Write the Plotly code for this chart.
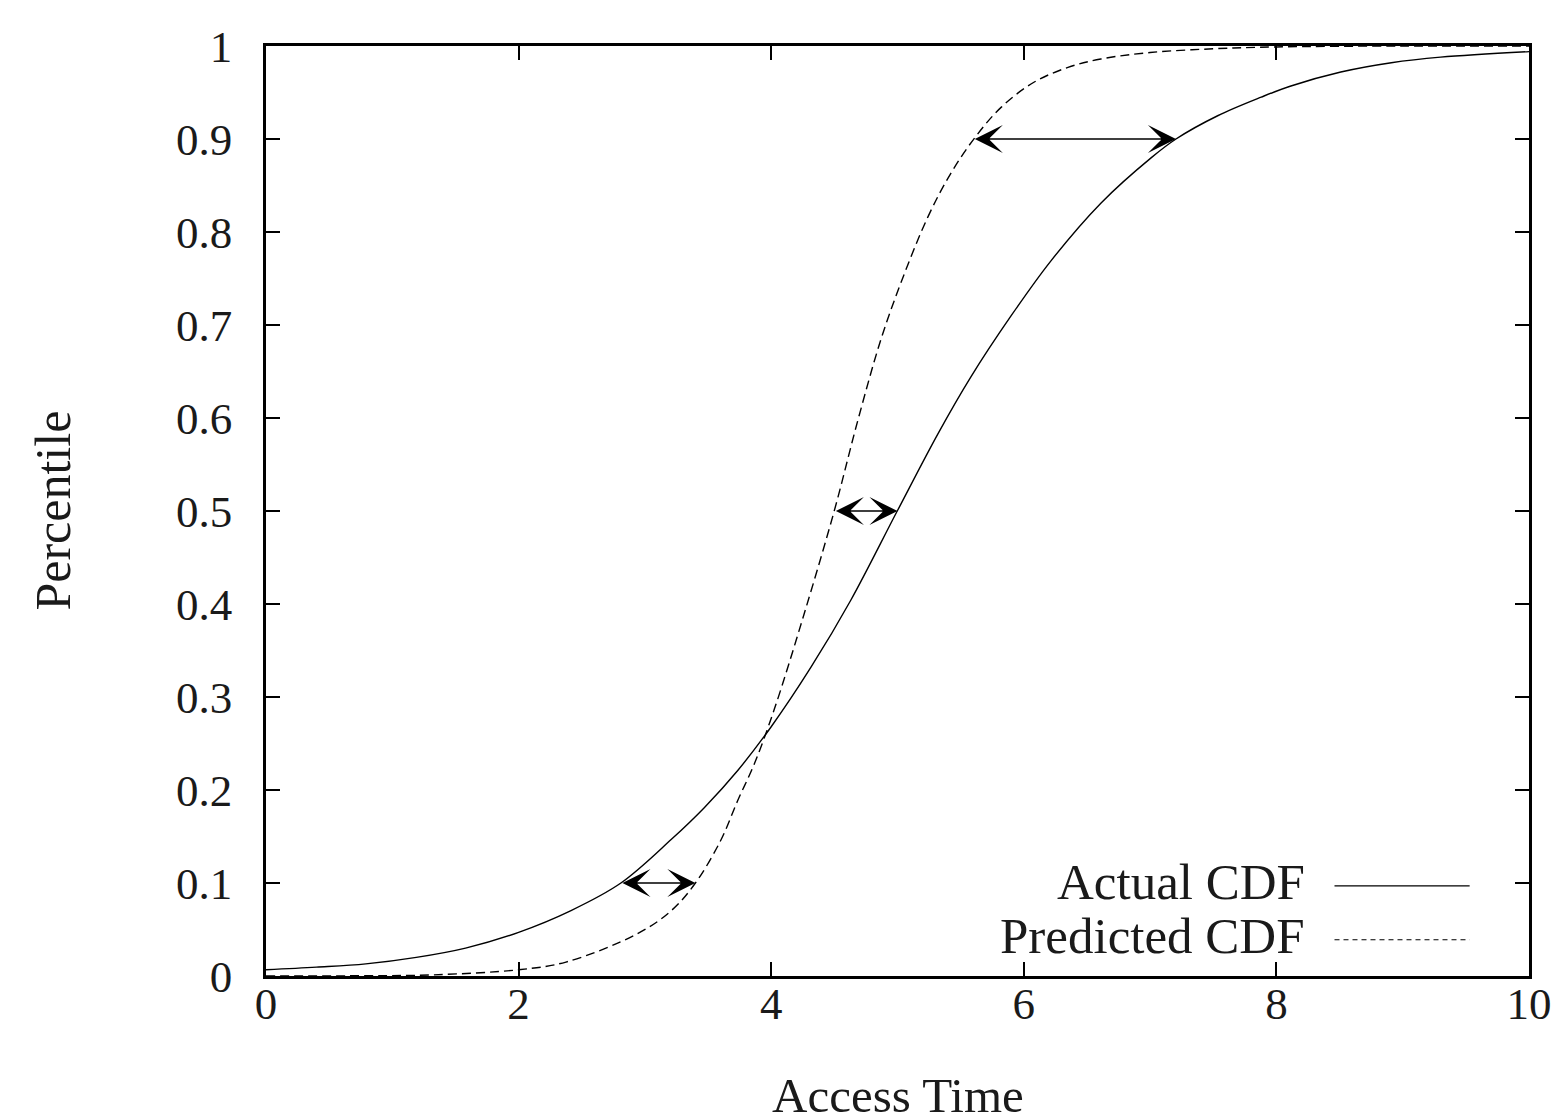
import plotly.graph_objects as go

# ---- data ----
actual_x = [0, 0.4, 0.79, 1.19, 1.58, 2.0, 2.415, 2.81, 3.21, 3.47, 3.735, 4.0, 4.315,
            4.63, 5.0, 5.32, 5.58, 5.90, 6.215, 6.61, 7.01, 7.205, 7.535, 7.88, 8.115,
            8.51, 8.91, 9.30, 10.0]
actual_y = [0.0067, 0.0095, 0.013, 0.020, 0.030, 0.047, 0.0704, 0.100, 0.147, 0.181,
            0.221, 0.268, 0.332, 0.404, 0.5005, 0.583, 0.644, 0.710, 0.769, 0.831,
            0.880, 0.900, 0.925, 0.945, 0.957, 0.972, 0.982, 0.988, 0.994]

pred_x = [0, 0.8, 1.32, 2.0, 2.375, 2.94, 3.21, 3.40, 3.60, 3.735, 3.866, 4.025,
          4.26, 4.50, 4.685, 4.87, 5.04, 5.24, 5.42, 5.61, 5.82, 6.08, 6.35, 6.61, 7.0,
          7.5, 8.0, 9.0, 10.0]
pred_y = [0.0, 0.0003, 0.0012, 0.0067, 0.015, 0.0454, 0.0704, 0.100, 0.1457,
          0.1887, 0.228, 0.287, 0.389, 0.5005, 0.597, 0.685, 0.750, 0.816, 0.8626, 0.901,
          0.934, 0.961, 0.977, 0.986, 0.993, 0.997, 0.999, 1.0, 1.0]

# gap arrows: (percentile, left x, right x)
arrow_levels = [0.1, 0.5, 0.9]
arrow_left = [2.81, 4.50, 5.60]
arrow_right = [3.40, 5.00, 7.205]

x_ticks = [0, 2, 4, 6, 8, 10]
y_ticks = [0, 0.1, 0.2, 0.3, 0.4, 0.5, 0.6, 0.7, 0.8, 0.9, 1.0]
y_ticktext = ["0", "0.1", "0.2", "0.3", "0.4", "0.5", "0.6", "0.7", "0.8", "0.9", "1"]

series_names = ["Actual CDF", "Predicted CDF"]

FONT = "Liberation Serif"
INK = "#1a1a1a"

fig = go.Figure()
fig.add_trace(go.Scatter(x=actual_x, y=actual_y, mode="lines", name=series_names[0],
                         line=dict(color="black", width=1.4, shape="spline", smoothing=1.0)))
fig.add_trace(go.Scatter(x=pred_x, y=pred_y, mode="lines", name=series_names[1],
                         line=dict(color="black", width=1.4, dash="9px,5px",
                                   shape="spline", smoothing=1.0)))

for lv, xl, xr in zip(arrow_levels, arrow_left, arrow_right):
    fig.add_annotation(x=xr, y=lv, ax=xl, ay=lv, xref="x", yref="y", axref="x", ayref="y",
                       text="", showarrow=True, arrowside="end+start",
                       arrowhead=3, startarrowhead=3,
                       arrowwidth=1.3, arrowsize=3.6, startarrowsize=3.6,
                       arrowcolor="black", standoff=0, startstandoff=0)

# custom legend (text right-aligned, sample to the right)
legend_y = [0.101, 0.043]
dashes = ["solid", "5px,4px"]
for name, ly, dsh in zip(series_names, legend_y, dashes):
    fig.add_annotation(x=0.824, y=ly, xref="paper", yref="paper", text=name,
                       showarrow=False, xanchor="right", yanchor="middle",
                       font=dict(family=FONT, size=51, color=INK))
    fig.add_shape(type="line", xref="paper", yref="paper", x0=0.846, x1=0.953,
                  y0=ly - 0.004, y1=ly - 0.004, line=dict(color="black", width=1.2, dash=dsh))

# axis titles
fig.add_annotation(x=0.5, y=-0.128, xref="paper", yref="paper", text="Access Time",
                   showarrow=False, xanchor="center", yanchor="middle",
                   font=dict(family=FONT, size=49, color=INK))
fig.add_annotation(x=-0.169, y=0.5, xref="paper", yref="paper", text="Percentile",
                   showarrow=False, xanchor="center", yanchor="middle", textangle=-90,
                   font=dict(family=FONT, size=50, color=INK))

axis_common = dict(showline=True, linewidth=2.5, linecolor="black", mirror="ticks",
                   ticks="inside", ticklen=14, tickwidth=1.6, tickcolor="black",
                   showgrid=False, zeroline=False,
                   tickfont=dict(family=FONT, size=45, color=INK))

fig.update_layout(
    width=1566, height=1113,
    margin=dict(l=258, r=45, t=38, b=145),
    paper_bgcolor="white", plot_bgcolor="white",
    showlegend=False,
    xaxis=dict(range=[0, 10], tickvals=x_ticks, ticktext=[str(v) for v in x_ticks],
               ticklabelstandoff=-14, **axis_common),
    yaxis=dict(range=[0, 1], tickvals=y_ticks, ticktext=y_ticktext,
               ticklabelstandoff=22, **axis_common),
)

fig.write_html("out.html")
